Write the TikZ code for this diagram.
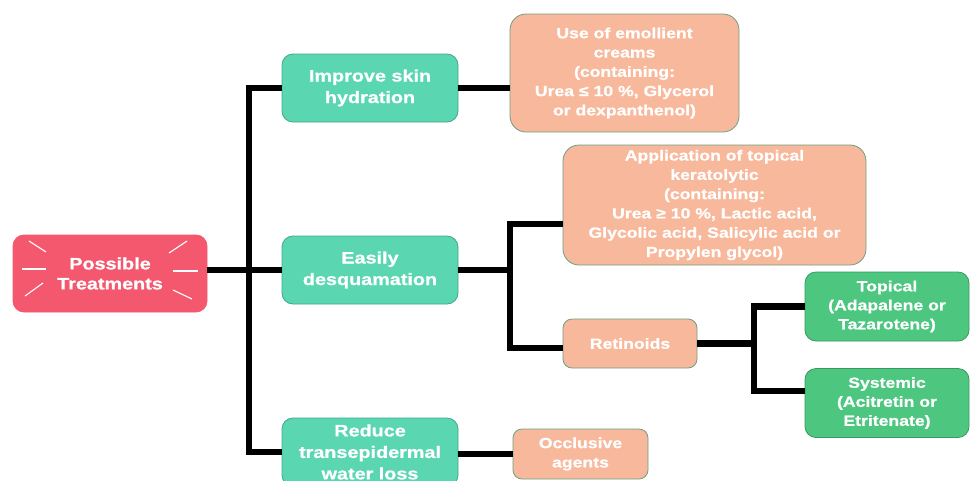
\documentclass[tikz,border=0pt]{standalone}
\usepackage{fontspec}
\newfontfamily\lbl[FakeStretch=1.2,FakeBold=0.8]{Liberation Sans Bold}
\definecolor{rootc}{HTML}{F4586F}
\definecolor{tealc}{HTML}{5AD7B1}
\definecolor{tealb}{HTML}{3FA888}
\definecolor{salc}{HTML}{F8B89B}
\definecolor{salb}{HTML}{6E9F84}
\definecolor{grnc}{HTML}{4DC680}
\definecolor{grnb}{HTML}{389A60}
\tikzset{
  box/.style={rectangle, rounded corners=11pt, align=center, text=white, inner sep=0pt, line width=0.8pt},
  lvlone/.style={box, fill=tealc, draw=tealb, minimum width=176pt, minimum height=68pt, font=\lbl\fontsize{16.5}{21.5}\selectfont},
  lvltwo/.style={box, fill=salc, draw=salb, font=\lbl\fontsize{14.7}{19.3}\selectfont},
  lvlthree/.style={box, fill=grnc, draw=grnb, minimum width=164pt, minimum height=69pt, font=\lbl\fontsize{14.7}{19}\selectfont},
  conn/.style={draw=black, line width=6.5pt, line join=miter},
  ray/.style={draw=white, line width=1.1pt}
}
\begin{document}
\begin{tikzpicture}[x=1pt,y=-1pt]
\useasboundingbox (0,0) rectangle (970,480);
\clip (0,0) rectangle (970,480);
\fill[white] (0,0) rectangle (970,480);
% connector points
\coordinate (tj) at (249,270);
\coordinate (dj) at (510,270);
\coordinate (kin) at (563,224);
\coordinate (rin) at (563,348);
\coordinate (rj) at (754,343.5);
\coordinate (tin) at (805,306.5);
\coordinate (sin) at (805,391);
% nodes
\node[box, fill=rootc, draw=rootc, minimum width=194pt, minimum height=77pt, font=\lbl\fontsize{16.5}{20}\selectfont] (root) at (110,273.5) {Possible\\Treatments};
\node[lvlone] (hyd) at (370,88) {Improve skin\\hydration};
\node[lvlone] (des) at (370,270) {Easily\\desquamation};
\node[lvlone] (red) at (370,452) {Reduce\\transepidermal\\water loss};
\node[lvltwo, minimum width=229pt, minimum height=118pt, rounded corners=16pt] (emo) at (624.5,73) {Use of emollient\\creams\\(containing:\\Urea ≤ 10 \%, Glycerol\\or dexpanthenol)};
\node[lvltwo, minimum width=303pt, minimum height=120pt, rounded corners=16pt] (ker) at (714.5,205) {Application of topical\\keratolytic\\(containing:\\Urea ≥ 10 \%, Lactic acid,\\Glycolic acid, Salicylic acid or\\Propylen glycol)};
\node[lvltwo, minimum width=134pt, minimum height=49pt, rounded corners=9pt] (ret) at (630,343.5) {Retinoids};
\node[lvltwo, minimum width=135pt, minimum height=50pt, rounded corners=9pt] (occ) at (580.5,454) {Occlusive\\agents};
\node[lvlthree] (top) at (887,306.5) {Topical\\(Adapalene or\\Tazarotene)};
\node[lvlthree] (sys) at (887,403) {Systemic\\(Acitretin or\\Etritenate)};
% rays on root
\draw[ray] (29,241) -- (46,252);
\draw[ray] (22,269) -- (46,269);
\draw[ray] (25,296) -- (43,283);
\draw[ray] (169,253) -- (187,241);
\draw[ray] (173,271) -- (198,271);
\draw[ray] (173,290) -- (192,299);
% connectors
\draw[conn] (des.west) -- (des.west -| root.east);
\draw[conn] (hyd.west) -| (tj) |- (red.west);
\draw[conn] (hyd.east) -- (hyd.east -| emo.west);
\draw[conn] (des.east) -- (dj);
\draw[conn] (kin) -| (dj) |- (rin);
\draw[conn] (ret.east) -- (rj);
\draw[conn] (tin) -| (rj) |- (sin);
\draw[conn] (occ.west) -- (occ.west -| red.east);
\end{tikzpicture}
\end{document}
